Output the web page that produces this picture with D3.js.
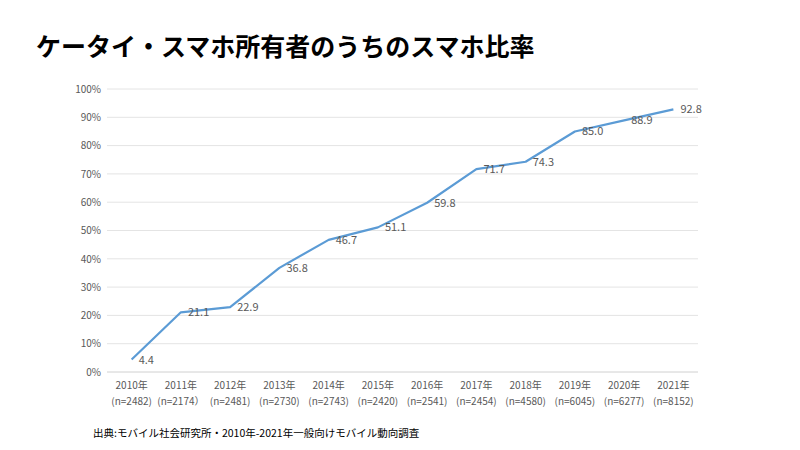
<!DOCTYPE html>
<html><head><meta charset="utf-8">
<script src="https://cdn.jsdelivr.net/npm/d3@7"></script>
<style>body{margin:0;background:#fff;} svg{display:block;}</style>
</head><body>
<svg id="c" width="800" height="450"></svg>
<script>
const years = ["2010年","2011年","2012年","2013年","2014年","2015年","2016年","2017年","2018年","2019年","2020年","2021年"];
const samples = ["(n=2482)","(n=2174）","(n=2481)","(n=2730)","(n=2743)","(n=2420)","(n=2541)","(n=2454)","(n=4580)","(n=6045)","(n=6277)","(n=8152)"];
const values = [4.4,21.1,22.9,36.8,46.7,51.1,59.8,71.7,74.3,85.0,88.9,92.8];
const yTicks = [0,10,20,30,40,50,60,70,80,90,100];
const title = "ケータイ・スマホ所有者のうちのスマホ比率";
const source = "出典:モバイル社会研究所・2010年-2021年一般向けモバイル動向調査";

(function(){
const svg = d3.select("#c");
const font = "'Noto Sans CJK JP','Noto Sans',sans-serif";
const pL = 107, pR = 698, pT = 89, pB = 372;

svg.append("text").attr("x",36).attr("y",56).attr("font-family",font).attr("font-weight","bold")
  .attr("font-size",25).attr("fill","#000").text(title);

const x = d3.scaleBand().domain(years).range([pL,pR]);
const y = d3.scaleLinear().domain([0,100]).range([pB,pT]);

svg.append("g").selectAll("line").data(yTicks).enter().append("line")
  .attr("x1",pL).attr("x2",pR).attr("y1",d=>y(d)).attr("y2",d=>y(d))
  .attr("stroke",d=>d===0?"#d0d0d0":"#e4e4e4").attr("stroke-width",1);

const yAxis = d3.axisLeft(y).tickValues(yTicks).tickFormat(d=>d+"%").tickSize(0).tickPadding(6);
const ya = svg.append("g").attr("transform",`translate(${pL},0)`).call(yAxis);
ya.select(".domain").remove();
ya.selectAll("text").attr("font-family",font).attr("font-size",10).attr("fill","#595959");

const xAxis = d3.axisBottom(x).tickSize(0).tickPadding(10);
const xa = svg.append("g").attr("transform",`translate(0,${pB})`).call(xAxis);
xa.select(".domain").remove();
xa.selectAll("text").attr("font-family",font).attr("font-size",10).attr("fill","#595959");
xa.selectAll(".tick").append("text").attr("y",33).attr("text-anchor","middle")
  .attr("font-family",font).attr("font-size",10).attr("fill","#595959")
  .text((d,i)=>samples[i]);

const line = d3.line().x((d,i)=>x(years[i])+x.bandwidth()/2).y(d=>y(d));
svg.append("path").datum(values).attr("d",line).attr("fill","none")
  .attr("stroke","#5B9BD5").attr("stroke-width",2.2).attr("stroke-linejoin","round");

svg.selectAll("text.lbl").data(values).enter().append("text").attr("class","lbl")
  .attr("x",(d,i)=>x(years[i])+x.bandwidth()/2+7).attr("y",d=>y(d)+4)
  .attr("font-family",font).attr("font-size",11).attr("fill","#595959")
  .text(d=>d.toFixed(1));

svg.append("text").attr("x",93).attr("y",437).attr("font-family",font)
  .attr("font-size",10.5).attr("fill","#000").text(source);
})();
</script>
</body></html>
